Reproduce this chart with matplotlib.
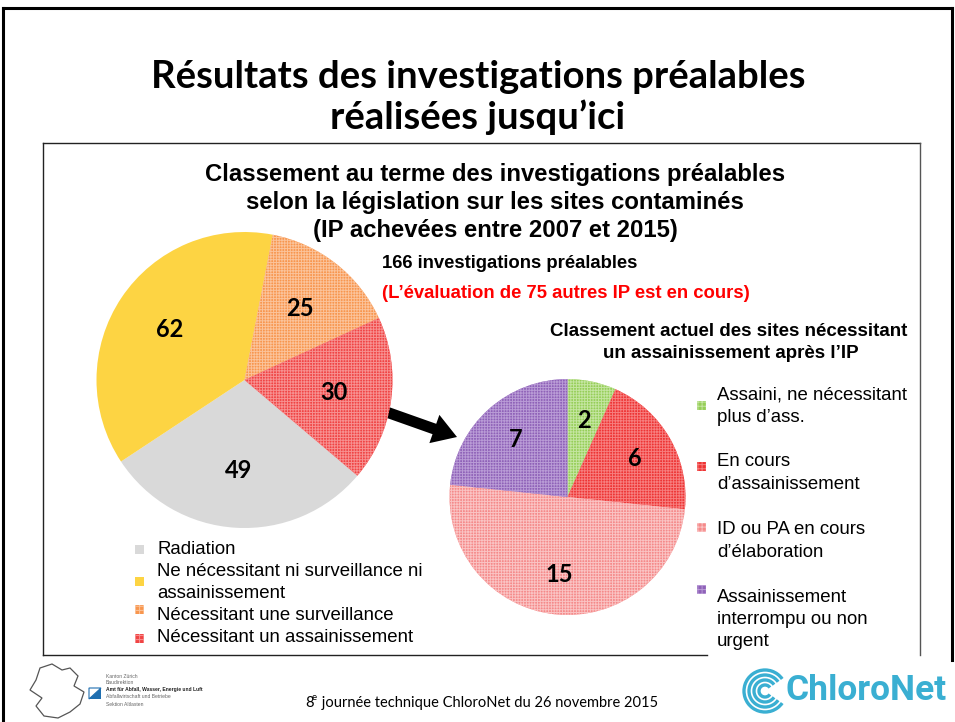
import numpy as np
import matplotlib
matplotlib.use("Agg")
import matplotlib.pyplot as plt
from matplotlib.patches import Rectangle, FancyArrow, Arc, Polygon

# --- data -------------------------------------------------------------
left_labels = ["Radiation",
               "Ne nécessitant ni surveillance ni\nassainissement",
               "Nécessitant une surveillance",
               "Nécessitant un assainissement"]
left_values = [49, 62, 25, 30]
left_colors = ["#D9D9D9", "#FDD443", "#F8964E", "#F04444"]
left_hatch = ["#D9D9D9", "#FDD443", "#FBC39A", "#F79090"]

right_labels = ["Assaini, ne nécessitant\nplus d’ass.",
                "En cours\nd’assainissement",
                "ID ou PA en cours\nd’élaboration",
                "Assainissement\ninterrompu ou non\nurgent"]
right_values = [2, 6, 15, 7]
right_colors = ["#96CE58", "#EE3434", "#F58A8A", "#8F62B8"]
right_hatch = ["#C4E5A0", "#F77E7E", "#FAC3C3", "#B99BD6"]

W, H = 955, 722
plt.rcParams['hatch.linewidth'] = 0.7

fig = plt.figure(figsize=(W / 100, H / 100), dpi=100)
bg = fig.add_axes([0, 0, 1, 1])
bg.set_xlim(0, W)
bg.set_ylim(H, 0)
bg.axis('off')

# slide frame
bg.plot([3, 3], [722, 8], color='black', lw=2.2)
bg.plot([3, 952], [8, 8], color='black', lw=2.2)
bg.plot([952, 952], [8, 660], color='black', lw=2.2)

# chart box
bg.plot([43, 920], [143, 143], color='#222222', lw=1)
bg.plot([43, 43], [143, 655], color='#222222', lw=1)
bg.plot([43, 707], [655, 655], color='#222222', lw=1)
bg.plot([920, 920], [143, 655], color='#555555', lw=1)

# slide title
bg.text(478, 77, "Résultats des investigations préalables", ha='center', va='center',
        fontsize=27.5, fontweight='bold', family='Lato')
bg.text(478, 117, "réalisées jusqu’ici", ha='center', va='center',
        fontsize=27.5, fontweight='bold', family='Lato')

# chart titles
for i, line in enumerate(["Classement au terme des investigations préalables",
                          "selon la législation sur les sites contaminés",
                          "(IP achevées entre 2007 et 2015)"]):
    bg.text(495, 174 + 28 * i, line, ha='center', va='center', fontsize=17.2,
            fontweight='bold', family='Liberation Sans')

bg.text(382, 264, "166 investigations préalables", ha='left', va='center',
        fontsize=13.3, fontweight='bold', family='Liberation Sans')
bg.text(382, 294, "(L’évaluation de 75 autres IP est en cours)", ha='left', va='center',
        fontsize=13.3, fontweight='bold', family='Liberation Sans', color='#FF0000')
bg.text(729, 331, "Classement actuel des sites nécessitant", ha='center', va='center',
        fontsize=13.5, fontweight='bold', family='Liberation Sans')
bg.text(731, 353, "un assainissement après l’IP", ha='center', va='center',
        fontsize=13.5, fontweight='bold', family='Liberation Sans')


def pie_axes(cx, cy, r):
    return fig.add_axes([(cx - r) / W, 1 - (cy + r) / H, 2 * r / W, 2 * r / H])


def draw_pie(ax, values, colors, hatch_cols, start, dist):
    total = sum(values)
    wedges, _, autotexts = ax.pie(values, colors=colors, startangle=start, counterclock=False,
                                  autopct=lambda p: f"{p * total / 100:.0f}", pctdistance=dist,
                                  wedgeprops=dict(linewidth=0),
                                  textprops=dict(fontsize=17, fontweight='bold', family='Lato'))
    for w, hc, c in zip(wedges, hatch_cols, colors):
        if hc != c:
            w.set_hatch('++++++')
            w.set_edgecolor(hc)
            w.set_linewidth(0)
    ax.set_xlim(-1, 1)
    ax.set_ylim(-1, 1)
    ax.axis('off')
    return wedges


ax1 = pie_axes(244.5, 380, 148)
draw_pie(ax1, left_values, left_colors, left_hatch, 319.7, 0.61)

ax2 = pie_axes(567.5, 497, 118)
draw_pie(ax2, right_values, right_colors, right_hatch, 90, 0.66)

# arrow between the pies
bg.add_patch(FancyArrow(361, 403, 96, 34, width=11, head_width=30, head_length=24,
                        length_includes_head=True, color='black', lw=0))

# left legend
left_marker_y = [549, 581, 609, 638]
left_text_y = [549, 572, 616, 638]
for lab, c, hc, my, ty in zip(left_labels, left_colors, left_hatch, left_marker_y, left_text_y):
    bg.add_patch(Rectangle((135, my - 4.5), 9, 9, facecolor=c, edgecolor=hc,
                           hatch='++++' if hc != c else None, lw=0))
    for j, line in enumerate(lab.split("\n")):
        bg.text(157, ty + 22 * j, line, ha='left', va='center', fontsize=13.4,
                family='Liberation Sans')

# right legend
right_marker_y = [405, 466, 527, 589]
right_text_y = [395, 462, 530, 597]
for lab, c, hc, my, ty in zip(right_labels, right_colors, right_hatch, right_marker_y, right_text_y):
    bg.add_patch(Rectangle((697, my - 4.5), 9, 9, facecolor=c, edgecolor=hc,
                           hatch='++++', lw=0))
    for j, line in enumerate(lab.split("\n")):
        bg.text(717, ty + 22.3 * j, line, ha='left', va='center', fontsize=13.4,
                family='Liberation Sans')

# footer
bg.text(305, 703, "8", ha='left', va='center', fontsize=10.5, family='Lato')
bg.text(312, 698, "e", ha='left', va='center', fontsize=7, family='Lato')
bg.text(318, 703, " journée technique ChloroNet du 26 novembre 2015", ha='left', va='center',
        fontsize=10.5, family='Lato')

# Zurich logo (simplified)
lion = np.array([[40, 668], [52, 664], [62, 670], [70, 668], [78, 676], [74, 686],
                 [84, 692], [80, 704], [70, 712], [58, 718], [44, 716], [36, 706],
                 [42, 698], [30, 690], [36, 680]])
bg.add_patch(Polygon(lion, closed=True, facecolor='white', edgecolor='#555555', lw=0.9))
bg.add_patch(Polygon([[89, 688], [101, 688], [89, 699]], closed=True, facecolor='white',
                     edgecolor='#1F6FB0', lw=0.8))
bg.add_patch(Polygon([[101, 688], [101, 699], [89, 699]], closed=True, facecolor='#1F6FB0', lw=0))
small = ["Kanton Zürich", "Baudirektion", "Amt für Abfall, Wasser, Energie und Luft",
         "Abfallwirtschaft und Betriebe", "Sektion Altlasten"]
for j, s in enumerate(small):
    bg.text(106, 676 + 7 * j, s, ha='left', va='center', fontsize=3.6,
            fontweight='bold' if j == 2 else 'normal', family='Liberation Sans',
            color='#222222' if j == 2 else '#666666')

# ChloroNet logo
teal = '#3AAFD2'
for rr in [6, 11, 16, 21]:
    bg.add_patch(Arc((765, 691), 2 * rr, 2 * rr, theta1=35, theta2=325, color=teal, lw=2.4))
bg.text(785, 691, "ChloroNet", ha='left', va='center', fontsize=25.5, fontweight='bold',
        family='Roboto', color=teal)

fig.savefig("out.png", dpi=100)
